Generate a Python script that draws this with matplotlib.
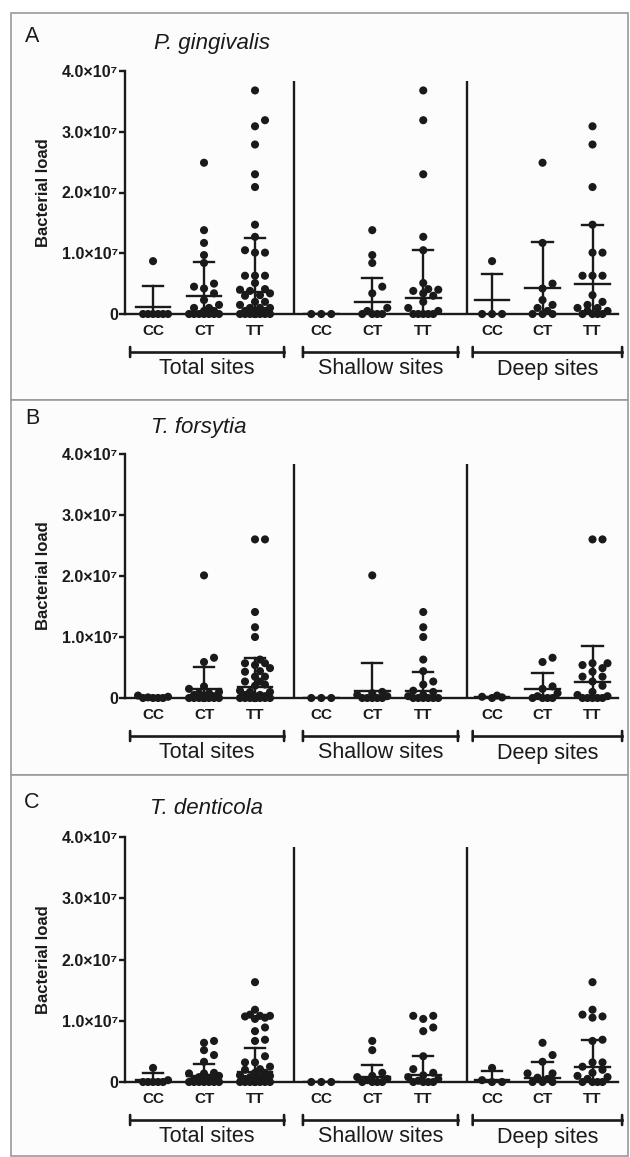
import matplotlib.pyplot as plt
from matplotlib.patches import Rectangle
from matplotlib.transforms import offset_copy

plt.rcParams['font.family'] = ['Liberation Sans', 'DejaVu Sans']

W, H = 630, 1157
ink = '#1a1a1a'

genotypes = ['CC', 'CT', 'TT']
site_names = ['Total sites', 'Shallow sites', 'Deep sites']
species = ['P. gingivalis', 'T. forsytia', 'T. denticola']
letters = ['A', 'B', 'C']
yticks = [0, 1e7, 2e7, 3e7, 4e7]
yticklabels = ['0', '1.0×10⁷', '2.0×10⁷', '3.0×10⁷', '4.0×10⁷']

# bacterial load per site, in units of 1e7
pg_shallow = [[0, 0, 0],
              [1.38, 0.97, 0.84, 0.45, 0.34, 0.1, 0.05, 0, 0, 0, 0],
              [3.68, 3.19, 2.30, 1.27, 1.05, 0.51, 0.41, 0.40, 0.38, 0.34, 0.3, 0.2, 0.1, 0.05, 0, 0, 0, 0, 0]]
pg_deep = [[0.87, 0, 0, 0],
           [2.49, 1.17, 0.5, 0.42, 0.23, 0.15, 0.1, 0.05, 0, 0, 0],
           [3.09, 2.79, 2.09, 1.47, 1.01, 1.01, 0.63, 0.63, 0.63, 0.31, 0.2, 0.15, 0.1, 0.1, 0.05, 0.05, 0, 0, 0, 0]]
tf_shallow = [[0, 0, 0],
              [2.01, 0.1, 0.08, 0.05, 0.03, 0, 0, 0, 0, 0],
              [1.41, 1.16, 1.0, 0.63, 0.44, 0.27, 0.22, 0.12, 0.1, 0.05, 0.03, 0, 0, 0, 0, 0, 0]]
tf_deep = [[0.04, 0.02, 0.01, 0],
           [0.66, 0.59, 0.19, 0.15, 0.08, 0.03, 0, 0, 0, 0],
           [2.6, 2.6, 0.57, 0.57, 0.54, 0.49, 0.43, 0.35, 0.35, 0.27, 0.2, 0.1, 0.05, 0.03, 0, 0, 0, 0, 0]]
td_shallow = [[0, 0, 0],
              [0.67, 0.52, 0.15, 0.1, 0.08, 0.05, 0.03, 0, 0, 0, 0],
              [1.08, 1.08, 1.03, 0.89, 0.83, 0.42, 0.21, 0.15, 0.11, 0.08, 0.05, 0.02, 0, 0, 0, 0]]
td_deep = [[0.23, 0.03, 0, 0],
           [0.64, 0.44, 0.33, 0.14, 0.14, 0.07, 0.05, 0, 0, 0],
           [1.63, 1.18, 1.1, 1.07, 1.05, 0.69, 0.67, 0.32, 0.32, 0.25, 0.2, 0.15, 0.1, 0.08, 0.05, 0, 0, 0, 0]]

# median and upper quartile (total CC..TT, shallow CC..TT, deep CC..TT), units of 1e7
pg_median = [0.12, 0.29, 0.37, 0, 0.20, 0.27, 0.23, 0.42, 0.49]
pg_q3 = [0.46, 0.85, 1.25, 0, 0.60, 1.05, 0.66, 1.19, 1.47]
tf_median = [0.02, 0.14, 0.18, 0, 0.12, 0.12, 0.01, 0.15, 0.27]
tf_q3 = [0.04, 0.51, 0.65, 0, 0.57, 0.43, 0.02, 0.41, 0.85]
td_median = [0.03, 0.10, 0.17, 0, 0.08, 0.11, 0.04, 0.07, 0.25]
td_q3 = [0.14, 0.29, 0.56, 0, 0.27, 0.42, 0.18, 0.33, 0.69]
q1 = [0, 0, 0, 0, 0, 0, 0, 0, 0]

shallow_sets = [pg_shallow, tf_shallow, td_shallow]
deep_sets = [pg_deep, tf_deep, td_deep]
medians = [pg_median, tf_median, td_median]
upper = [pg_q3, tf_q3, td_q3]

# layout (pixels of the 630x1157 picture)
group_x = [0, 1, 2, 3.3, 4.3, 5.3, 6.65, 7.64, 8.62]
separators = [2.77, 6.15]
brackets = [(-0.45, 2.57), (2.94, 5.98), (6.27, 9.2)]
boxes = [(13, 400), (400, 775), (775, 1156)]
axes_px = [(71, 314), (454, 698), (837, 1082)]
letter_y = [36, 418, 803]
title_pos = [(212, 43), (199, 428), (207, 809)]


def swarm(vals, xc, dot=7.5, xunit=51.0, yunit=61.0):
    # spread dots sideways (in pixels), piling up when the group is crowded
    placed = []
    out = []
    cands = [0, 10, -10, 5, -5, 15, -15]
    for v in sorted(vals):
        py = v * yunit
        best, best_d = None, -1
        for px in cands:
            d = min([((px - a) ** 2 + (py - b) ** 2) ** 0.5 for a, b in placed] + [99])
            if d >= dot * 0.9:
                best = px
                break
            if d > best_d:
                best, best_d = px, d
        placed.append((best, py))
        out.append((xc + best / xunit, v * 1e7))
    return out


fig = plt.figure(figsize=(W / 100, H / 100), dpi=100)

for top, bot in boxes:
    fig.add_artist(Rectangle((11 / W, 1 - bot / H), 617 / W, (bot - top) / H,
                             transform=fig.transFigure, facecolor='#fcfcfc',
                             edgecolor='#9a9a9a', lw=1.2, zorder=0))

for p in range(3):
    top, bot = axes_px[p]
    ax = fig.add_axes([125 / W, 1 - bot / H, 493 / W, (bot - top) / H])
    ax.set_facecolor('none')
    ax.set_xlim(-0.55, 9.12)
    ax.set_ylim(0, 4e7)
    for s in ['top', 'right']:
        ax.spines[s].set_visible(False)
    for s in ['left', 'bottom']:
        ax.spines[s].set_linewidth(1.7)
        ax.spines[s].set_color(ink)
    ax.set_yticks(yticks)
    ax.set_yticklabels(yticklabels, fontsize=11.5, fontweight='bold', color=ink)
    ax.tick_params(axis='y', length=4, width=1.7, pad=1, color=ink)
    ax.set_xticks(group_x)
    ax.set_xticklabels(genotypes * 3, fontsize=11, fontweight='bold', color=ink)
    ax.tick_params(axis='x', length=0, pad=7)
    ax.set_ylabel('Bacterial load', fontsize=12, fontweight='bold', color=ink, labelpad=8)

    groups = [sh + dp for sh, dp in zip(shallow_sets[p], deep_sets[p])] + shallow_sets[p] + deep_sets[p]
    for i, vals in enumerate(groups):
        x = group_x[i]
        pts = swarm(vals, x)
        ax.scatter([a for a, b in pts], [b for a, b in pts], s=34, color=ink,
                   edgecolors='none', zorder=3, clip_on=False)
        med = medians[p][i] * 1e7
        hi = upper[p][i] * 1e7
        lo = q1[i] * 1e7
        ax.plot([x - 0.34, x + 0.34], [med, med], color=ink, lw=1.7, zorder=4)
        ax.plot([x, x], [lo, hi], color=ink, lw=1.7, zorder=4)
        ax.plot([x - 0.2, x + 0.2], [hi, hi], color=ink, lw=1.7, zorder=4)

    ax.vlines(separators, 0, 3.84e7, color=ink, lw=1.7)

    # brackets under the genotype labels
    tr_mid = offset_copy(ax.transData, fig=fig, x=0, y=-38, units='dots')
    tr_hi = offset_copy(ax.transData, fig=fig, x=0, y=-33, units='dots')
    tr_lo = offset_copy(ax.transData, fig=fig, x=0, y=-43, units='dots')
    for (x0, x1), name in zip(brackets, site_names):
        ax.plot([x0, x1], [0, 0], color=ink, lw=1.9, transform=tr_mid, clip_on=False)
        for xe in (x0, x1):
            ax.annotate('', xy=(xe, 0), xycoords=tr_lo, xytext=(xe, 0), textcoords=tr_hi,
                        arrowprops=dict(arrowstyle='-', color=ink, lw=1.9,
                                        shrinkA=0, shrinkB=0), annotation_clip=False)
        ax.annotate(name, xy=((x0 + x1) / 2, 0), xytext=(0, -55), textcoords='offset pixels',
                    ha='center', va='center', fontsize=15.5, color=ink, annotation_clip=False)

    fig.text(32 / W, 1 - letter_y[p] / H, letters[p], fontsize=15.5, color=ink,
             ha='center', va='center')
    tx, ty = title_pos[p]
    fig.text(tx / W, 1 - ty / H, species[p], fontsize=16, style='italic', color=ink,
             ha='center', va='center')

fig.savefig('out.png', dpi=100, facecolor='white')
